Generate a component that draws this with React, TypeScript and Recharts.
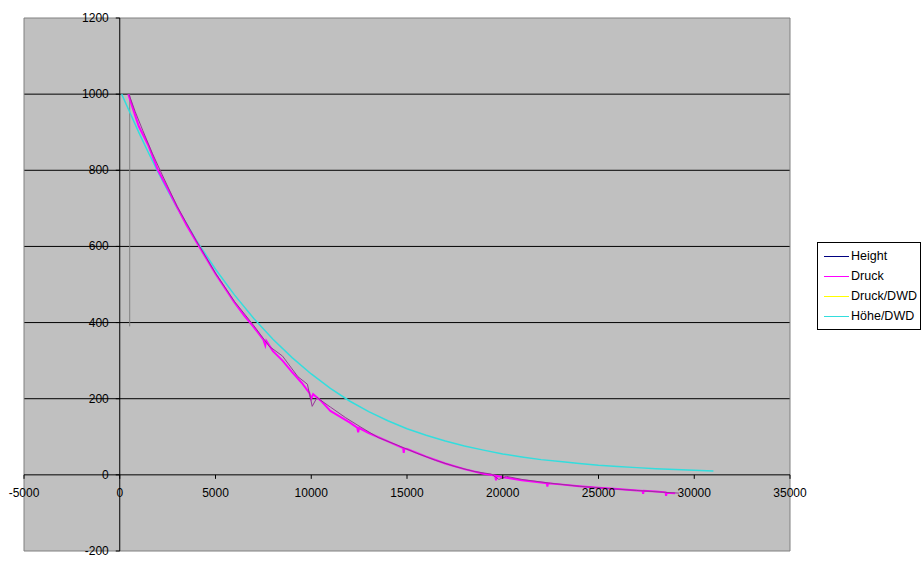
import React from 'react';
import {
    LineChart,
    Line,
    XAxis,
    YAxis,
    CartesianGrid,
    ReferenceLine,
    ReferenceArea
} from 'recharts';

// axis ticks
const xTicks = [-5000, 0, 5000, 10000, 15000, 20000, 25000, 30000, 35000];
const yTicks = [-200, 0, 200, 400, 600, 800, 1000, 1200];
const gridValues = [200, 400, 600, 800, 1000];

// Höhe/DWD (standard atmosphere, cyan)
const hoeheDwdX = [100, 500, 1000, 1500, 2000, 2500, 3000, 4000, 5000, 6000, 7000, 8000, 9000, 10000, 11000, 12000, 13000, 14000, 15000, 16000, 17000, 18000, 19000, 20000, 21000, 22000, 23000, 24000, 25000, 26000, 27000, 28000, 29000, 30000, 31000];
const hoeheDwdY = [1000, 955, 899, 846, 795, 747, 701, 616, 540, 472, 411, 356, 308, 265, 227, 194, 166, 142, 121, 104, 89, 76, 65, 55, 47, 40, 35, 30, 25, 22, 19, 16, 14, 12, 10];

// Druck (magenta)
const druckX = [450, 700, 1000, 1500, 2000, 2500, 3000, 3500, 4000, 4500, 5000, 5500, 6000, 6500, 7000, 7500, 7600, 7650, 8000, 8500, 9000, 9500, 9900, 10000, 10100, 10500, 11000, 12000, 12400, 12450, 12500, 13000, 14000, 14800, 14830, 14860, 15000, 16000, 17000, 18000, 19000, 19600, 19650, 19700, 20000, 21000, 22000, 22300, 22330, 22360, 23000, 24000, 25000, 26000, 27000, 27300, 27330, 27360, 28000, 28500, 28530, 28560, 29000];
const druckY = [1000, 960, 915, 865, 800, 752, 703, 655, 612, 570, 528, 490, 452, 418, 388, 355, 340, 352, 325, 300, 270, 242, 215, 200, 212, 195, 168, 138, 124, 112, 123, 110, 88, 70, 58, 69, 68, 48, 30, 15, 3, -2, -14, -3, -6, -14, -20, -22, -31, -22, -25, -30, -34, -37, -41, -42, -50, -42, -44, -46, -55, -47, -48];

// Height (thin purple trace next to Druck)
const heightX = [480, 800, 1200, 1700, 2200, 3000, 4000, 5000, 6000, 7000, 7800, 8500, 9300, 9800, 10050, 10300, 11000, 11800, 12600, 13500, 14500, 15500, 16500, 17500, 18500, 19400, 19800, 20200, 21000, 22500, 24000, 25500, 27000, 28500, 29200];
const heightY = [1000, 955, 905, 845, 790, 705, 615, 530, 455, 392, 338, 312, 258, 238, 180, 203, 178, 150, 125, 98, 78, 57, 38, 22, 9, 2, -12, -4, -12, -22, -30, -36, -41, -46, -48];

// vertical marker trace (grey)
const markerX = [520, 520];
const markerY = [1000, 390];

const toPoints = (xs: number[], ys: number[]) => xs.map((x, i) => ({ x, y: ys[i] }));

const hoeheDwd = toPoints(hoeheDwdX, hoeheDwdY);
const druck = toPoints(druckX, druckY);
const height = toPoints(heightX, heightY);
const marker = toPoints(markerX, markerY);

const legendItems = [
    { name: 'Height', color: '#000080' },
    { name: 'Druck', color: '#FF00FF' },
    { name: 'Druck/DWD', color: '#FFFF00' },
    { name: 'Höhe/DWD', color: '#33DDDD' }
];

const WIDTH = 924;
const HEIGHT = 562;
// axes take 1px each (an axis of size 0 is not drawn)
const margin = { top: 18, right: 134, bottom: 10, left: 23 };
const plotLeft = margin.left + 1;
const plotW = WIDTH - plotLeft - margin.right;
const plotH = HEIGHT - margin.top - margin.bottom - 1;
const X_MIN = -5000, X_MAX = 35000, Y_MIN = -200, Y_MAX = 1200;
const zeroX = plotLeft + plotW * (0 - X_MIN) / (X_MAX - X_MIN);
const zeroY = margin.top + plotH * (Y_MAX - 0) / (Y_MAX - Y_MIN);

const font = '"Liberation Sans", Arial, sans-serif';

const YTick = (props: any) => {
    const { y, payload } = props;
    return (
        <g>
            <line x1={zeroX - 4} x2={zeroX} y1={y} y2={y} stroke="#000" />
            <text x={zeroX - 11} y={y + 4} textAnchor="end" fontSize={12} fontFamily={font} fill="#000">
                {payload.value}
            </text>
        </g>
    );
};

const XTick = (props: any) => {
    const { x, payload } = props;
    return (
        <g>
            <line x1={x} x2={x} y1={zeroY} y2={zeroY + 4} stroke="#000" />
            <text x={x} y={zeroY + 22} textAnchor="middle" fontSize={12} fontFamily={font} fill="#000">
                {payload.value}
            </text>
        </g>
    );
};

const LegendBox = () => (
    <div style={{
        position: 'absolute',
        left: 817,
        top: 242,
        width: 102,
        height: 83,
        border: '1px solid #000',
        background: '#fff',
        fontFamily: font,
        fontSize: 12.5,
        paddingTop: 3
    }}>
        {legendItems.map(item => (
            <div key={item.name} style={{ display: 'flex', alignItems: 'center', height: 20 }}>
                <div style={{ width: 25, height: 1, background: item.color, marginLeft: 6, marginRight: 2 }} />
                <span style={{ color: '#000' }}>{item.name}</span>
            </div>
        ))}
    </div>
);

export default function App() {
    return (
        <div style={{ position: 'absolute', left: 0, top: 0, width: WIDTH, height: HEIGHT, background: '#fff' }}>
            <LineChart width={WIDTH} height={HEIGHT} margin={margin}>
                <CartesianGrid
                    fill="#C0C0C0"
                    stroke="#000"
                    vertical={false}
                    horizontalValues={gridValues}
                />
                <XAxis
                    dataKey="x"
                    type="number"
                    domain={[X_MIN, X_MAX]}
                    ticks={xTicks}
                    interval={0}
                    height={1}
                    axisLine={false}
                    tickLine={false}
                    tick={<XTick />}
                    allowDataOverflow
                />
                <YAxis
                    dataKey="y"
                    type="number"
                    domain={[Y_MIN, Y_MAX]}
                    ticks={yTicks}
                    interval={0}
                    width={1}
                    axisLine={false}
                    tickLine={false}
                    tick={<YTick />}
                    allowDataOverflow
                />
                <ReferenceArea x1={X_MIN} x2={X_MAX} y1={Y_MIN} y2={Y_MAX} fill="none" fillOpacity={0} stroke="#808080" />
                <ReferenceLine y={0} stroke="#000" />
                <ReferenceLine x={0} stroke="#000" />
                <Line data={marker} dataKey="y" name="marker" stroke="#808080" strokeWidth={1} dot={false} isAnimationActive={false} legendType="none" />
                <Line data={hoeheDwd} dataKey="y" name="Höhe/DWD" stroke="#33DDDD" strokeWidth={1.5} dot={false} isAnimationActive={false} />
                <Line data={druck} dataKey="y" name="Druck" stroke="#FF00FF" strokeWidth={2} dot={false} isAnimationActive={false} />
                <Line data={height} dataKey="y" name="Height" stroke="#993399" strokeWidth={1} dot={false} isAnimationActive={false} />
            </LineChart>
            <LegendBox />
        </div>
    );
}
